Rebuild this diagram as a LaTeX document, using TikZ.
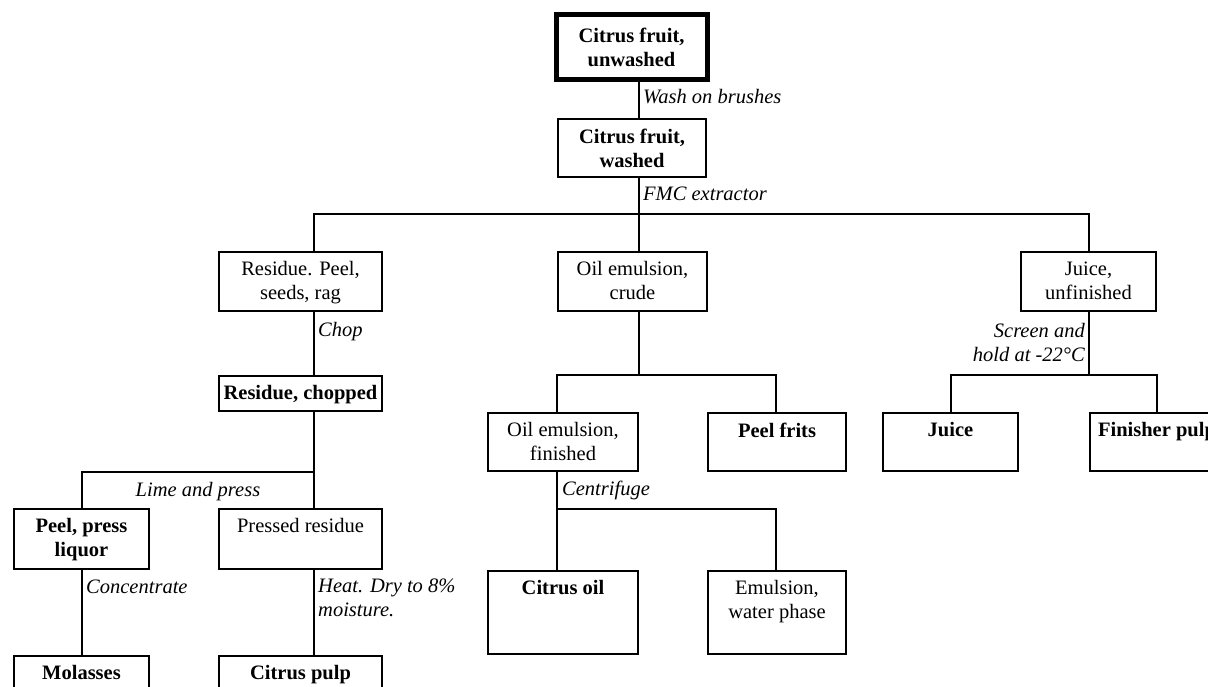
\documentclass[tikz,border=0pt]{standalone}
\usepackage{fontspec}
\setmainfont{Liberation Serif}
\begin{document}
\begin{tikzpicture}[x=1pt,y=1pt,
  every node/.style={font=\fontsize{20.5}{24}\selectfont},
  box/.style={draw, line width=2.4pt, anchor=north west, inner sep=0pt, outer sep=0pt, minimum height=59pt},
  thickbox/.style={box, line width=5pt},
  txt/.style={anchor=north, inner sep=0pt, yshift=-9.5pt, align=center},
  btxt/.style={txt, font=\fontsize{20.5}{24}\selectfont\bfseries},
  conn/.style={line width=2.4pt},
  proc/.style={font=\fontsize{20.5}{24}\selectfont\itshape, inner sep=0pt}
]
\clip (0,0) rectangle (1208,-686);
\fill[white] (0,0) rectangle (1208,-686);

% boxes
\node[thickbox, minimum width=151pt, minimum height=65pt,
  label={[btxt, yshift=-4.5pt]north:{Citrus fruit,\\unwashed}}] (unw) at (556,-14) {};
\node[box, minimum width=148pt, minimum height=58pt,
  label={[btxt]north:{Citrus fruit,\\washed}}] (wash) at (558,-119) {};
\node[box, minimum width=163pt,
  label={[txt]north:{Residue. Peel,\\seeds, rag}}] (res) at (219,-252) {};
\node[box, minimum width=149pt,
  label={[txt]north:{Oil emulsion,\\crude}}] (oilc) at (558,-252) {};
\node[box, minimum width=135pt,
  label={[txt]north:{Juice,\\unfinished}}] (juiceu) at (1021,-252) {};
\node[box, minimum width=163pt, minimum height=35pt,
  label={[btxt]north:{Residue, chopped}}] (resch) at (219,-376) {};
\node[box, minimum width=150pt, minimum height=58pt,
  label={[txt]north:{Oil emulsion,\\finished}}] (oilf) at (488,-413) {};
\node[box, minimum width=138pt, minimum height=58pt,
  label={[btxt]north:{Peel frits}}] (frits) at (708,-413) {};
\node[box, minimum width=135pt, minimum height=58pt,
  label={[btxt]north:{Juice}}] (juice) at (883,-413) {};
\node[box, minimum width=134pt, minimum height=58pt,
  label={[btxt]north:{Finisher pulp}}] (finp) at (1090,-413) {};
\node[box, minimum width=135pt, minimum height=60pt,
  label={[btxt]north:{Peel, press\\liquor}}] (peelpl) at (14,-509) {};
\node[box, minimum width=163pt, minimum height=60pt,
  label={[txt]north:{Pressed residue}}] (pressr) at (219,-509) {};
\node[box, minimum width=135pt, minimum height=60pt,
  label={[btxt]north:{Molasses}}] (mol) at (14,-656) {};
\node[box, minimum width=163pt, minimum height=60pt,
  label={[btxt]north:{Citrus pulp}}] (cpulp) at (219,-656) {};
\node[box, minimum width=150pt, minimum height=83pt,
  label={[btxt]north:{Citrus oil}}] (coil) at (488,-571) {};
\node[box, minimum width=138pt, minimum height=83pt,
  label={[txt]north:{Emulsion,\\water phase}}] (emul) at (708,-571) {};

% junction points
\coordinate (jA) at (639,-214);
\coordinate (jL) at (314,-214);
\coordinate (jR) at (1089,-214);
\coordinate (jB) at (314,-472);
\coordinate (jB2) at (82,-472);
\coordinate (jC) at (639,-375);
\coordinate (jC1) at (557,-375);
\coordinate (jC2) at (776,-375);
\coordinate (jD1) at (557,-509);
\coordinate (jD2) at (776,-509);
\coordinate (jE) at (1089,-375);
\coordinate (jE1) at (951,-375);
\coordinate (jE2) at (1157,-375);

% connectors
\draw[conn] (unw.south -| jA) -- (wash.north -| jA);
\draw[conn] (wash.south -| jA) -- (jA);
\draw[conn] (res.north -| jL) -- (jL) -- (jR) -- (juiceu.north -| jR);
\draw[conn] (jA) -- (oilc.north -| jA);
\draw[conn] (res.south -| jL) -- (resch.north -| jL);
\draw[conn] (resch.south -| jB) -- (pressr.north -| jB);
\draw[conn] (jB) -- (jB2) -- (peelpl.north -| jB2);
\draw[conn] (peelpl.south -| jB2) -- (mol.north -| jB2);
\draw[conn] (pressr.south -| jB) -- (cpulp.north -| jB);
\draw[conn] (oilc.south -| jC) -- (jC);
\draw[conn] (oilf.north -| jC1) -- (jC1) -- (jC2) -- (frits.north -| jC2);
\draw[conn] (oilf.south -| jD1) -- (coil.north -| jD1);
\draw[conn] (jD1) -- (jD2) -- (emul.north -| jD2);
\draw[conn] (juiceu.south -| jE) -- (jE);
\draw[conn] (juice.north -| jE1) -- (jE1) -- (jE2) -- (finp.north -| jE2);

% process labels
\node[proc, anchor=base west] (lwash) at (643,-103) {Wash on brushes};
\node[proc, anchor=base west] (lfmc) at (643,-200) {FMC extractor};
\node[proc, anchor=base west] (lchop) at (318,-336) {Chop};
\node[proc, anchor=north east, align=right] (lscreen) at (1085,-323) {Screen and\\hold at -22°C};
\node[proc, anchor=base] (llime) at (198,-496) {Lime and press};
\node[proc, anchor=base west] (lconc) at (86,-593) {Concentrate};
\node[proc, anchor=north west, align=left] (lheat) at (318,-579) {Heat. Dry to 8\%\\moisture.};
\node[proc, anchor=base west] (lcent) at (562,-495) {Centrifuge};
\end{tikzpicture}
\end{document}
